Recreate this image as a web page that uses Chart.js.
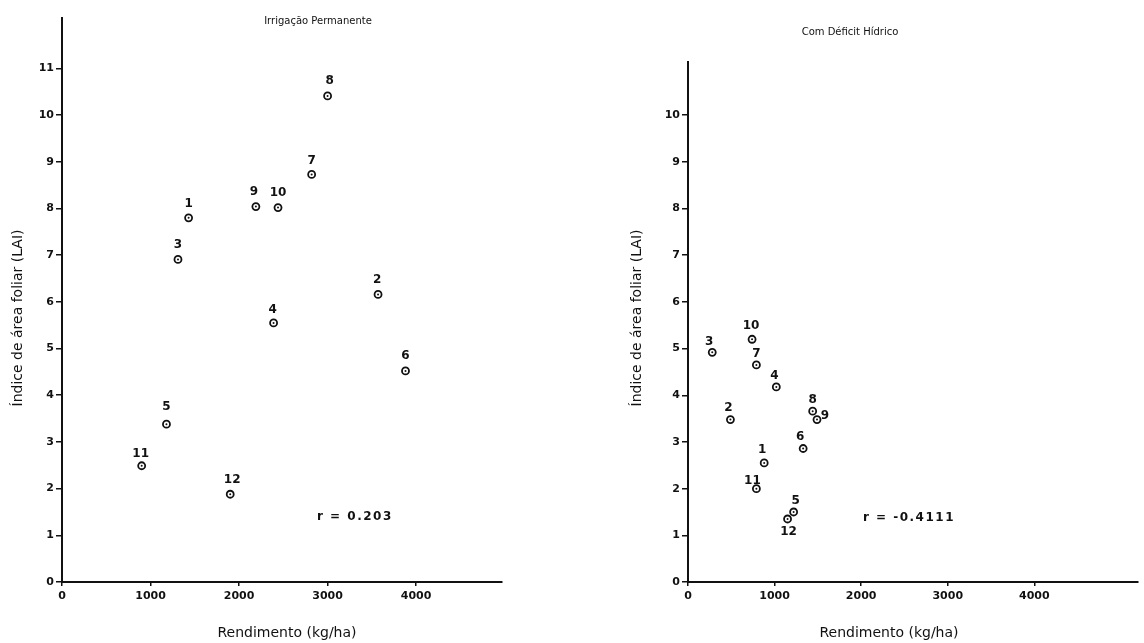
<!DOCTYPE html>
<html>
<head>
<meta charset="utf-8">
<script src="https://cdn.jsdelivr.net/npm/chart.js@4.4.1/dist/chart.umd.min.js"></script>
<style>
  html, body { margin: 0; padding: 0; background: #fff; }
  #wrap { position: relative; width: 1144px; height: 643px; }
  .box { position: absolute; top: 0; width: 572px; height: 643px; }
</style>
</head>
<body>
<div id="wrap">
  <div class="box" style="left:0"><canvas id="irrigChart"></canvas></div>
  <div class="box" style="left:572px"><canvas id="deficitChart"></canvas></div>
</div>
<script>
// numeração das parcelas / cultivares
const plotNumbers = ['1', '2', '3', '4', '5', '6', '7', '8', '9', '10', '11', '12'];

// Irrigação permanente
const irrigYield = [1430, 3570, 1310, 2390, 1180, 3880, 2820, 3000, 2190, 2440, 900, 1900];
const irrigLai = [7.80, 6.16, 6.91, 5.55, 3.38, 4.52, 8.73, 10.41, 8.04, 8.02, 2.49, 1.88];

// Com déficit hídrico
const deficitYield = [880, 490, 280, 1020, 1220, 1330, 790, 1440, 1490, 740, 790, 1150];
const deficitLai = [2.55, 3.48, 4.92, 4.18, 1.50, 2.86, 4.65, 3.66, 3.48, 5.20, 2.00, 1.35];

const yieldTicks = [0, 1000, 2000, 3000, 4000];
const irrigLaiTicks = [0, 1, 2, 3, 4, 5, 6, 7, 8, 9, 10, 11];
const deficitLaiTicks = [0, 1, 2, 3, 4, 5, 6, 7, 8, 9, 10];

// deslocamento dos números em relação aos pontos (px)
const irrigLabelOffsets = [[0,-14],[-1,-15],[0,-15],[-1,-13],[0,-17],[0,-15],[0,-14],[2,-15],[-2,-15],[0,-15],[-1,-12],[2,-14]];
const deficitLabelOffsets = [[-2,-13],[-2,-12],[-3,-10],[-2,-11],[2,-11],[-3,-12],[0,-11],[0,-11],[8,-4],[-1,-13],[-4,-8],[1,13]];

const ink = '#111';

const labelsPlugin = {
  id: 'labelsPlugin',
  afterDatasetsDraw(chart, args, opts) {
    const ctx = chart.ctx;
    const meta = chart.getDatasetMeta(0);
    ctx.save();
    ctx.fillStyle = ink;
    meta.data.forEach((pt, i) => {
      ctx.beginPath();
      ctx.arc(pt.x, pt.y, 1, 0, Math.PI * 2);
      ctx.fill();
    });
    ctx.font = 'bold 12px "DejaVu Sans"';
    ctx.textAlign = 'center';
    ctx.textBaseline = 'middle';
    meta.data.forEach((pt, i) => {
      const off = opts.offsets[i];
      ctx.fillText(plotNumbers[i], pt.x + off[0], pt.y + off[1]);
    });
    ctx.restore();
  },
  afterDraw(chart, args, opts) {
    const ctx = chart.ctx;
    const xs = chart.scales.x, ys = chart.scales.y;
    ctx.save();
    ctx.fillStyle = ink;
    ctx.textBaseline = 'middle';
    // título
    ctx.font = '10px "DejaVu Sans"';
    ctx.textAlign = 'center';
    ctx.fillText(opts.title, opts.titleX, opts.titleY);
    // coeficiente de correlação
    ctx.font = 'bold 12px "DejaVu Sans"';
    ctx.textAlign = 'left';
    ctx.letterSpacing = '1.5px';
    ctx.fillText(opts.rText, xs.getPixelForValue(opts.rPos[0]), ys.getPixelForValue(opts.rPos[1]));
    ctx.letterSpacing = '0px';
    // títulos dos eixos
    ctx.font = '14px "DejaVu Sans"';
    ctx.textAlign = 'center';
    ctx.fillText('Rendimento (kg/ha)', opts.xTitleX, 633);
    ctx.translate(opts.yTitleX, 318);
    ctx.rotate(-Math.PI / 2);
    ctx.fillText('Índice de área foliar (LAI)', 0, 0);
    ctx.restore();
  }
};

function makeChart(id, xs, ys, cfg) {
  const points = xs.map((x, i) => ({ x: x, y: ys[i] }));
  return new Chart(document.getElementById(id), {
    type: 'scatter',
    data: {
      datasets: [{
        data: points,
        pointRadius: 3.5,
        pointBorderWidth: 1.8,
        pointBorderColor: ink,
        pointBackgroundColor: '#fff'
      }]
    },
    options: {
      responsive: true,
      maintainAspectRatio: false,
      animation: false,
      layout: { padding: { top: cfg.padTop, right: cfg.padRight, left: 0, bottom: 0 } },
      plugins: {
        legend: { display: false },
        tooltip: { enabled: false },
        labelsPlugin: cfg.labels
      },
      scales: {
        x: {
          type: 'linear',
          min: 0,
          max: cfg.xMax,
          afterBuildTicks: s => { s.ticks = yieldTicks.map(v => ({ value: v })); },
          afterFit: s => { s.height = 61; },
          border: { color: ink, width: 2 },
          grid: { drawOnChartArea: false, tickLength: 4, color: ink, lineWidth: 1.5 },
          ticks: {
            color: ink, font: { family: 'DejaVu Sans', size: 11, weight: 'bold' }, padding: 4, maxRotation: 0,
            callback: v => String(v)
          }
        },
        y: {
          type: 'linear',
          min: 0,
          max: cfg.yMax,
          afterBuildTicks: s => { s.ticks = cfg.yTicks.map(v => ({ value: v })); },
          afterFit: s => { s.width = cfg.yWidth; },
          border: { color: ink, width: 2 },
          grid: { drawOnChartArea: false, tickLength: 6, color: ink, lineWidth: 1.5 },
          ticks: {
            color: ink, font: { family: 'DejaVu Sans', size: 11, weight: 'bold' }, padding: 2,
            callback: v => String(v)
          }
        }
      }
    },
    plugins: [labelsPlugin]
  });
}

makeChart('irrigChart', irrigYield, irrigLai, {
  padTop: 18, padRight: 70, xMax: 4970, yMax: 12.08, yWidth: 62, yTicks: irrigLaiTicks,
  labels: {
    offsets: irrigLabelOffsets, title: 'Irrigação Permanente', titleX: 318, titleY: 21,
    rText: 'r = 0.203', rPos: [2880, 1.39], xTitleX: 287, yTitleX: 18
  }
});

makeChart('deficitChart', deficitYield, deficitLai, {
  padTop: 62, padRight: 0, xMax: 5200, yMax: 11.14, yWidth: 116, yTicks: deficitLaiTicks,
  labels: {
    offsets: deficitLabelOffsets, title: 'Com Déficit Hídrico', titleX: 850 - 572, titleY: 32,
    rText: 'r = -0.4111', rPos: [2020, 1.38], xTitleX: 889 - 572, yTitleX: 637 - 572
  }
});
</script>
</body>
</html>
